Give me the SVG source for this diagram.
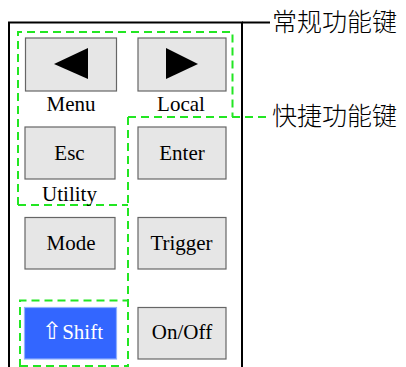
<svg xmlns="http://www.w3.org/2000/svg" width="406" height="367" viewBox="0 0 406 367">
<style>
.btn{fill:#e6e6e6;stroke:#666;stroke-width:1.2}
.lbl{font-family:"Liberation Serif","Times New Roman",serif;font-size:21px;fill:#000;text-anchor:middle}
.cn{font-family:"Noto Sans CJK SC","Noto Sans",sans-serif;font-size:25px;font-weight:300;fill:#000}
.frame{fill:none;stroke:#000;stroke-width:2}
.grp{fill:none;stroke:#22e622;stroke-width:2;stroke-dasharray:8 5}
.arr{font-family:"DejaVu Sans",sans-serif;font-size:24px}
</style>
<rect width="406" height="367" fill="#fff"/>
<g id="connectors">
<path class="frame" d="M9,367 V22.5 H242 V367"/>
<line class="frame" x1="242" y1="22.5" x2="270" y2="22.5" stroke-width="1.5"/>
<path class="grp" d="M18,205 V32 H232.5 V117"/>
<path class="grp" d="M18,205 H128"/>
<path class="grp" d="M128,117 H271"/>
<path class="grp" d="M128,117 V367"/>
<path class="grp" d="M20,367 V300.5 H128"/>
<path class="grp" d="M20,366 H128"/>
</g>
<g id="label-common"><text class="cn" x="272" y="31">常规功能键</text></g>
<g id="label-shortcut"><text class="cn" x="272" y="125">快捷功能键</text></g>
<g id="btn-menu">
<rect class="btn" x="25.5" y="38" width="91" height="53"/>
<polygon points="54,64 88,48 88,79" fill="#000"/>
<text class="lbl" x="71" y="111">Menu</text>
</g>
<g id="btn-local">
<rect class="btn" x="138" y="38" width="88" height="53"/>
<polygon points="166,48 198,64 166,79" fill="#000"/>
<text class="lbl" x="181" y="111">Local</text>
</g>
<g id="btn-esc">
<rect class="btn" x="25" y="127" width="90" height="52"/>
<text class="lbl" x="69.5" y="160">Esc</text>
<text class="lbl" x="69.5" y="201">Utility</text>
</g>
<g id="btn-enter">
<rect class="btn" x="138" y="127" width="88" height="52"/>
<text class="lbl" x="182" y="160">Enter</text>
</g>
<g id="btn-mode">
<rect class="btn" x="25" y="217.5" width="90" height="51.5"/>
<text class="lbl" x="71" y="250">Mode</text>
</g>
<g id="btn-trigger">
<rect class="btn" x="138" y="217.5" width="88" height="51.5"/>
<text class="lbl" x="181.5" y="250">Trigger</text>
</g>
<g id="btn-shift">
<rect x="24.5" y="307.5" width="92" height="51.5" fill="#3366ff" stroke="#8fb0ff" stroke-width="1.2"/>
<text class="lbl" x="72.5" y="339" style="fill:#fff"><tspan class="arr">⇧</tspan>Shift</text>
</g>
<g id="btn-onoff">
<rect class="btn" x="138" y="307.5" width="88" height="51.5"/>
<text class="lbl" x="182" y="339">On/Off</text>
</g>
</svg>
